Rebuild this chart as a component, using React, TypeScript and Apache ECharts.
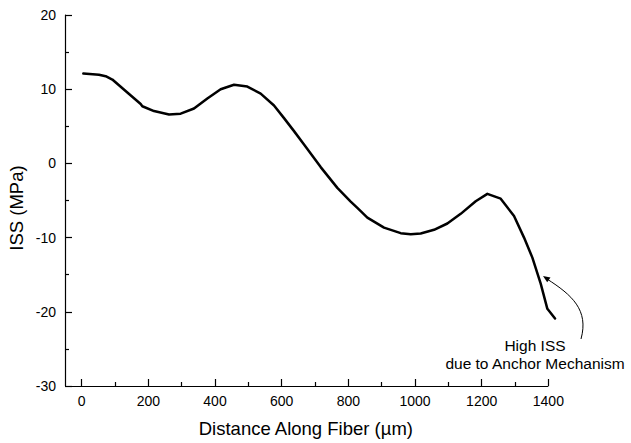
import React, { useEffect, useRef } from "react";
import * as echarts from "echarts";

const distance = [5, 52, 72, 92, 137, 177, 182, 217, 262, 297, 337, 377, 417, 457, 497, 537, 577, 607, 637, 667, 717, 767, 807, 827, 857, 907, 957, 987, 1017, 1057, 1097, 1137, 1182, 1217, 1257, 1297, 1327, 1352, 1377, 1397, 1420];
const iss = [12.1, 11.95, 11.75, 11.3, 9.55, 8.0, 7.7, 7.05, 6.6, 6.7, 7.4, 8.75, 10.0, 10.6, 10.35, 9.4, 7.8, 6.1, 4.35, 2.55, -0.5, -3.3, -5.15, -6.0, -7.3, -8.65, -9.4, -9.55, -9.45, -8.95, -8.1, -6.8, -5.1, -4.1, -4.75, -7.1, -10.0, -12.7, -16.2, -19.6, -20.9];
const majorXTicks = [0, 200, 400, 600, 800, 1000, 1200, 1400];
const minorXTicks = [100, 300, 500, 700, 900, 1100, 1300];
const xAxisStart = -50;
const xAxisEnd = 1400;
const yAxisTitle = "ISS (MPa)";
const annotationLines = ["High ISS", "due to Anchor Mechanism"];

const FONT = "'Liberation Sans', Arial, Helvetica, sans-serif";

export default function App() {
  const ref = useRef<HTMLDivElement>(null);
  useEffect(() => {
    if (!ref.current) return;
    const chart = echarts.init(ref.current, undefined, { renderer: "svg" });
    const data = distance.map((d, i) => [d, iss[i]]);
    const axisLine = { show: true, onZero: false, lineStyle: { color: "#000", width: 1.2 } };
    const plain = (v: number) => String(v);
    const centered = (text: string, x: number, y: number, size: number, rotation = 0) => ({
      type: "text",
      x,
      y,
      rotation,
      style: {
        text,
        align: "center",
        verticalAlign: "middle",
        textAlign: "center",
        textVerticalAlign: "middle",
        fill: "#000",
        font: `${size}px ${FONT}`,
      },
    });
    chart.setOption({
      animation: false,
      backgroundColor: "#fff",
      grid: { left: 65, right: 74.3, top: 15, bottom: 54, containLabel: false },
      xAxis: [
        {
          type: "value",
          min: xAxisStart,
          max: 1425,
          position: "bottom",
          axisLine: { show: false, onZero: false },
          splitLine: { show: false },
          axisTick: { show: true, inside: true, length: 7, customValues: majorXTicks, lineStyle: { color: "#000", width: 1.2 } },
          axisLabel: { customValues: majorXTicks, formatter: plain, color: "#000", fontSize: 14, fontFamily: FONT, margin: 8 },
          name: "Distance Along Fiber (\u00b5m)",
          nameLocation: "middle",
          nameGap: 33,
          nameTextStyle: { color: "#000", fontSize: 18.5, fontFamily: FONT, verticalAlign: "top", padding: [0, 10, 0, 0] },
        },
        {
          type: "value",
          min: xAxisStart,
          max: 1425,
          position: "bottom",
          axisLine: { show: false, onZero: false },
          splitLine: { show: false },
          axisTick: { show: true, inside: true, length: 4, customValues: minorXTicks, lineStyle: { color: "#000", width: 1.2 } },
          axisLabel: { show: false },
        },
      ],
      yAxis: {
        type: "value",
        min: -30,
        max: 20,
        interval: 10,
        axisLine,
        splitLine: { show: false },
        axisTick: { show: true, inside: true, length: 7, lineStyle: { color: "#000", width: 1.2 } },
        minorTick: { show: true, splitNumber: 2, length: 4, lineStyle: { color: "#000", width: 1.2 } },
        minorSplitLine: { show: false },
        axisLabel: { formatter: plain, color: "#000", fontSize: 14, fontFamily: FONT, margin: 9 },
      },
      series: [
        {
          type: "line",
          xAxisIndex: 0,
          data,
          showSymbol: false,
          clip: false,
          lineStyle: { color: "#000", width: 2.5, join: "round", cap: "round" },
          markLine: {
            silent: true,
            symbol: ["none", "none"],
            label: { show: false },
            lineStyle: { color: "#000", width: 1.2, type: "solid" },
            data: [[{ coord: [xAxisStart, -30] }, { coord: [xAxisEnd, -30] }]],
          },
        },
      ],
      graphic: [
        centered(yAxisTitle, 16, 208, 18.5, Math.PI / 2),
        centered(annotationLines[0], 535, 345, 15.5),
        centered(annotationLines[1], 535, 363, 15.5),
        {
          type: "bezierCurve",
          shape: { x1: 581, y1: 339, cpx1: 589, cpy1: 310, cpx2: 572, cpy2: 295, x2: 547, y2: 279 },
          style: { stroke: "#000", lineWidth: 1, fill: "none" },
        },
        {
          type: "polygon",
          shape: { points: [[543, 276], [550.5, 277.6], [547.2, 282.3]] },
          style: { fill: "#000" },
        },
      ],
    });
    return () => chart.dispose();
  }, []);
  return <div ref={ref} style={{ position: "fixed", left: 0, top: 0, width: 631, height: 443 }} />;
}
